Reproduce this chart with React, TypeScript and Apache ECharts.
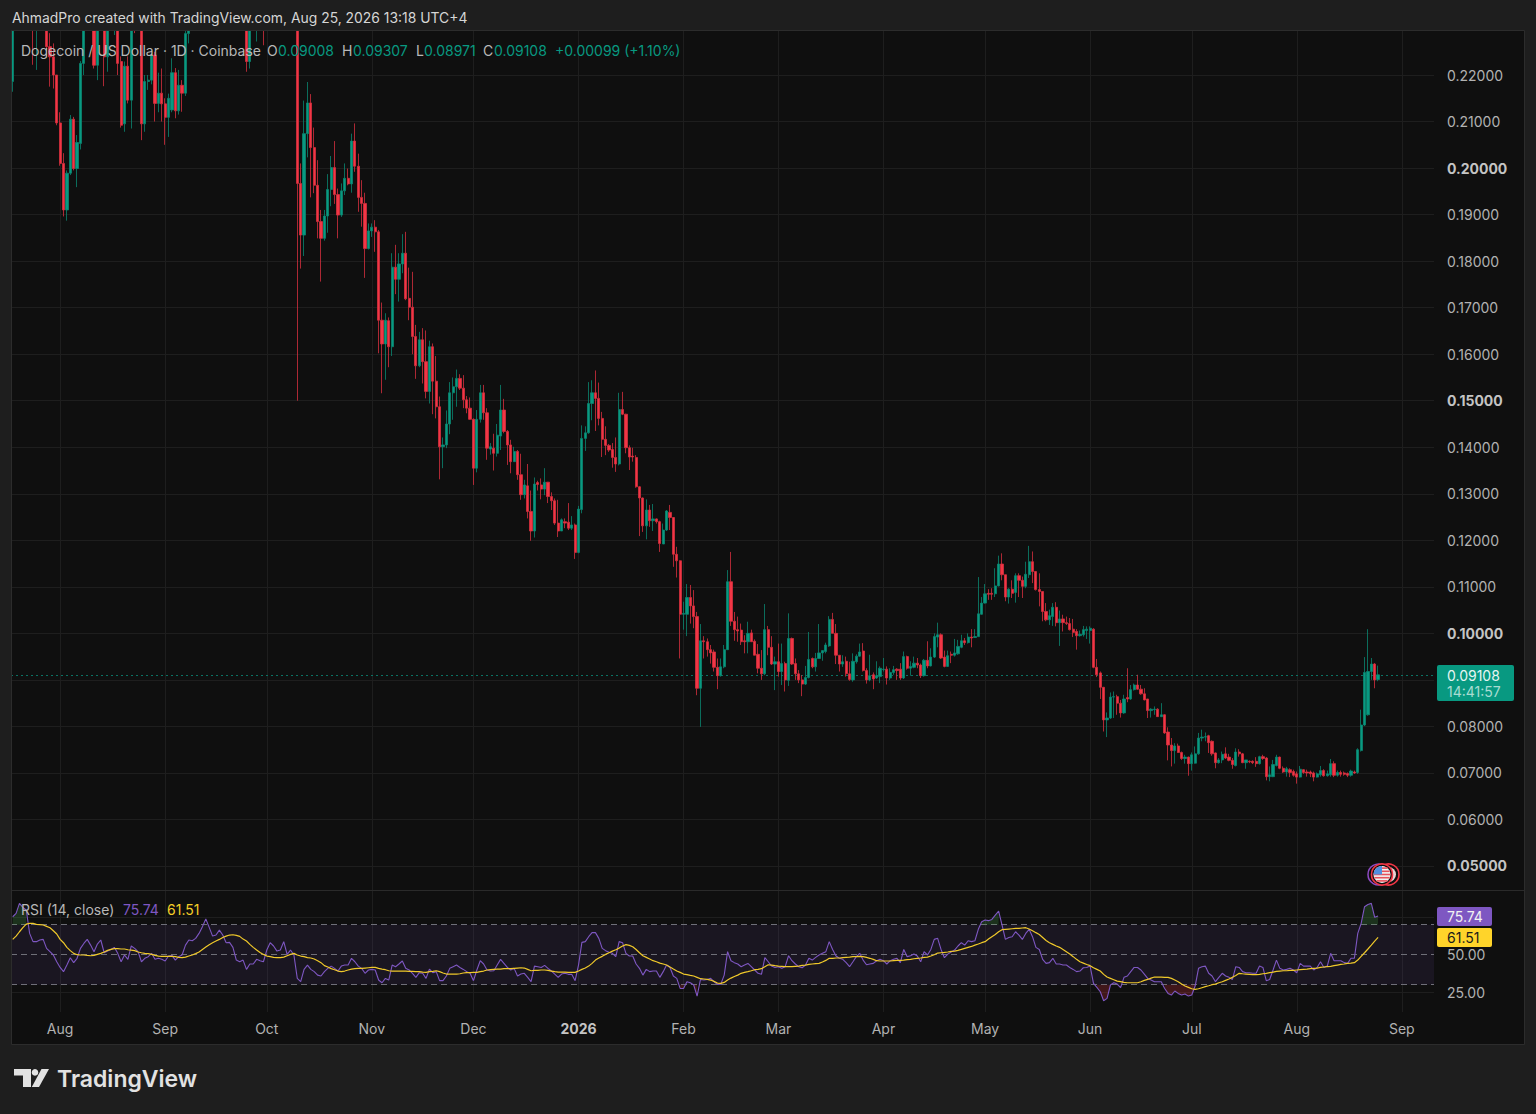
import React, { useEffect, useRef } from "react";
import * as echarts from "echarts";

const UP = "#089981";
const DOWN = "#F23645";
const UI_FONT = "Inter, 'Noto Sans', sans-serif";

const firstDay = "2025-07-18";
const slotCount = 420;
const monthLabels: Record<string, string> = {
  "2025-08-01": "Aug", "2025-09-01": "Sep", "2025-10-01": "Oct", "2025-11-01": "Nov", "2025-12-01": "Dec",
  "2026-01-01": "2026", "2026-02-01": "Feb", "2026-03-01": "Mar", "2026-04-01": "Apr", "2026-05-01": "May",
  "2026-06-01": "Jun", "2026-07-01": "Jul", "2026-08-01": "Aug", "2026-09-01": "Sep",
};
const priceTicks = [0.05, 0.06, 0.07, 0.08, 0.09, 0.1, 0.11, 0.12, 0.13, 0.14, 0.15, 0.16, 0.17, 0.18, 0.19, 0.2, 0.21, 0.22];
const priceLabels = [0.05, 0.06, 0.07, 0.08, 0.1, 0.11, 0.12, 0.13, 0.14, 0.15, 0.16, 0.17, 0.18, 0.19, 0.2, 0.21, 0.22];
const boldPrices = [0.05, 0.1, 0.15, 0.2];
const rsiGridTicks = [25, 75];
const rsiLabelTicks = [25, 50];
const rsiBands = [30, 50, 70];
const lastPrice = 0.09108;
const lastRsi = 75.74;
const lastRsiMa = 61.51;

// [open, close, low, high]
const candlesJulSep = [
  [.2186,.2420,.2164,.2480],[.2420,.2380,.2340,.2500],[.2380,.2400,.2330,.2470],[.2400,.2500,.2370,.2560],[.2500,.2620,.2450,.2690],
  [.2620,.2680,.2560,.2750],[.2680,.2350,.2222,.2760],[.2350,.2400,.2211,.2470],[.2400,.2380,.2320,.2450],[.2380,.2400,.2310,.2440],
  [.2400,.2261,.2240,.2430],[.2261,.2239,.2175,.2290],[.2239,.2200,.2171,.2268],[.2200,.2097,.2092,.2200],[.2097,.2010,.2005,.2120],
  [.2010,.1910,.1896,.2032],[.1910,.1989,.1887,.1995],[.1989,.2105,.1985,.2114],[.2105,.1999,.1995,.2110],[.1999,.2055,.1959,.2071],
  [.2053,.2225,.2040,.2230],[.2225,.2340,.2200,.2370],[.2340,.2380,.2310,.2430],[.2380,.2400,.2310,.2420],[.2400,.2221,.2214,.2430],
  [.2221,.2340,.2189,.2370],[.2340,.2310,.2300,.2380],[.2310,.2239,.2176,.2340],[.2239,.2330,.2207,.2360],[.2330,.2340,.2300,.2390],
  [.2340,.2360,.2286,.2400],[.2360,.2225,.2200,.2380],[.2229,.2092,.2087,.2240],[.2095,.2219,.2078,.2229],[.2219,.2146,.2139,.2240],
  [.2146,.2340,.2085,.2370],[.2340,.2330,.2290,.2380],[.2330,.2350,.2300,.2400],[.2350,.2095,.2060,.2400],[.2095,.2186,.2078,.2200],
  [.2186,.2189,.2168,.2200],[.2189,.2243,.2180,.2247],[.2243,.2139,.2100,.2250],[.2139,.2161,.2120,.2205],[.2161,.2138,.2100,.2214],
  [.2138,.2109,.2050,.2150],[.2109,.2150,.2067,.2160],[.2125,.2205,.2120,.2236],[.2205,.2123,.2107,.2215],[.2123,.2178,.2115,.2211],
  [.2178,.2161,.2121,.2189],[.2161,.2289,.2155,.2310],[.2289,.2380,.2268,.2420],[.2380,.2420,.2340,.2460],[.2420,.2470,.2400,.2500],
  [.2470,.2530,.2440,.2570],[.2530,.2620,.2510,.2660],[.2620,.2800,.2600,.2830],[.2800,.3000,.2780,.3060],[.3000,.2880,.2810,.3020],
  [.2880,.2720,.2680,.2900],[.2720,.2800,.2700,.2840],[.2800,.2720,.2680,.2830],[.2720,.2680,.2610,.2760],[.2680,.2600,.2540,.2700],
  [.2600,.2640,.2560,.2700],[.2640,.2450,.2390,.2650],[.2450,.2380,.2350,.2480],[.2380,.2410,.2320,.2450],[.2410,.2229,.2207,.2440],
  [.2229,.2350,.2214,.2390],[.2350,.2390,.2320,.2430],[.2340,.2380,.2272,.2410],[.2380,.2420,.2340,.2460],[.2420,.2370,.2264,.2440],
  [.2370,.2410,.2340,.2450],[.2410,.2460,.2380,.2500],[.2460,.2510,.2430,.2550],[.2510,.2560,.2480,.2600],[.2560,.2520,.2470,.2590],
  [.2520,.2600,.2490,.2640],[.2600,.2640,.2560,.2700],[.2640,.2600,.2540,.2680],[.2600,.2520,.2470,.2630],
];
const candlesOctDec = [
  [.2520,.1967,.1500,.2540],[.1967,.1856,.1784,.2010],[.1856,.2074,.1811,.2145],[.2074,.2140,.2023,.2185],[.2140,.2044,.1937,.2159],
  [.2044,.1963,.1946,.2087],[.1963,.1885,.1849,.2017],[.1885,.1849,.1756,.1910],[.1849,.1897,.1844,.1910],[.1897,.1954,.1861,.1987],
  [.1954,.2001,.1918,.2026],[.2001,.1943,.1923,.2058],[.1943,.1899,.1849,.1956],[.1899,.1951,.1895,.1967],[.1951,.1978,.1942,.2010],
  [.1978,.1966,.1963,.1999],[.1966,.2058,.1947,.2074],[.2058,.2004,.1992,.2096],[.2004,.1937,.1906,.2031],[.1937,.1924,.1874,.1974],
  [.1924,.1827,.1764,.1947],[.1827,.1865,.1825,.1881],[.1865,.1873,.1852,.1881],[.1873,.1863,.1820,.1888],[.1863,.1673,.1602,.1867],
  [.1673,.1622,.1516,.1711],[.1622,.1673,.1545,.1688],[.1672,.1616,.1572,.1679],[.1616,.1787,.1596,.1817],[.1787,.1761,.1729,.1835],
  [.1761,.1794,.1713,.1817],[.1794,.1817,.1774,.1858],[.1817,.1719,.1716,.1863],[.1720,.1701,.1673,.1786],[.1701,.1638,.1600,.1777],
  [.1638,.1575,.1547,.1663],[.1575,.1631,.1572,.1648],[.1631,.1584,.1537,.1656],[.1584,.1520,.1505,.1651],[.1520,.1616,.1494,.1629],
  [.1616,.1542,.1471,.1623],[.1542,.1487,.1462,.1596],[.1487,.1401,.1331,.1509],[.1401,.1405,.1355,.1421],[.1405,.1450,.1398,.1479],
  [.1450,.1517,.1428,.1540],[.1517,.1530,.1459,.1550],[.1530,.1548,.1487,.1567],[.1548,.1527,.1523,.1557],[.1527,.1502,.1484,.1555],
  [.1502,.1484,.1473,.1510],[.1484,.1460,.1459,.1507],[.1460,.1355,.1319,.1462],[.1355,.1460,.1346,.1480],[.1460,.1517,.1453,.1534],
  [.1517,.1474,.1459,.1534],[.1474,.1398,.1373,.1484],[.1396,.1401,.1384,.1409],[.1398,.1387,.1350,.1429],[.1387,.1426,.1380,.1450],
  [.1424,.1480,.1394,.1534],[.1480,.1434,.1430,.1504],[.1434,.1405,.1362,.1437],[.1405,.1369,.1344,.1416],[.1369,.1391,.1369,.1401],
  [.1391,.1341,.1330,.1394],[.1341,.1298,.1287,.1386],[.1298,.1319,.1290,.1330],[.1317,.1262,.1247,.1364],[.1262,.1220,.1199,.1307],
  [.1220,.1321,.1206,.1335],[.1324,.1320,.1307,.1328],[.1319,.1310,.1288,.1333],[.1310,.1325,.1297,.1355],[.1325,.1294,.1280,.1325],
  [.1294,.1285,.1265,.1303],[.1285,.1237,.1233,.1290],[.1237,.1220,.1207,.1287],[.1220,.1244,.1220,.1247],[.1240,.1237,.1226,.1247],
  [.1239,.1226,.1222,.1280],[.1226,.1233,.1222,.1252],[.1233,.1174,.1160,.1236],[.1174,.1267,.1172,.1274],
];
const candlesJanMar = [
  [.1266,.1419,.1258,.1447],[.1419,.1431,.1392,.1445],[.1431,.1494,.1429,.1540],[.1494,.1517,.1458,.1544],[.1517,.1505,.1435,.1565],
  [.1505,.1462,.1447,.1539],[.1462,.1417,.1379,.1476],[.1417,.1404,.1383,.1445],[.1404,.1394,.1390,.1407],[.1395,.1378,.1356,.1409],
  [.1378,.1364,.1347,.1421],[.1364,.1481,.1361,.1517],[.1481,.1471,.1469,.1519],[.1471,.1399,.1387,.1472],[.1399,.1379,.1351,.1404],
  [.1381,.1379,.1369,.1399],[.1378,.1315,.1313,.1383],[.1315,.1291,.1209,.1316],[.1291,.1231,.1218,.1292],[.1231,.1265,.1202,.1288],
  [.1265,.1242,.1229,.1276],[.1242,.1246,.1220,.1278],[.1246,.1240,.1236,.1247],[.1240,.1193,.1175,.1242],[.1192,.1222,.1192,.1236],
  [.1222,.1263,.1220,.1265],[.1260,.1249,.1222,.1276],[.1249,.1170,.1143,.1250],[.1170,.1156,.1120,.1186],[.1156,.1041,.0946,.1157],
  [.1041,.1043,.1008,.1068],[.1041,.1077,.0994,.1106],[.1077,.1059,.1021,.1104],[.1059,.1036,.1011,.1093],[.1036,.0882,.0867,.1046],
  [.0882,.0984,.0799,.1020],[.0984,.0982,.0946,.0994],[.0982,.0965,.0950,.0989],[.0965,.0958,.0935,.0975],[.0960,.0927,.0918,.0965],
  [.0927,.0909,.0880,.0946],[.0909,.0928,.0907,.0946],[.0928,.0965,.0925,.0975],[.0965,.1111,.0964,.1136],[.1111,.1026,.1016,.1175],
  [.1026,.1008,.0984,.1046],[.1008,.1005,.0982,.1036],[.1007,.0982,.0975,.1021],[.0984,.0982,.0957,.0996],[.0982,.1000,.0957,.1025],
  [.1001,.0982,.0982,.1008],[.0983,.0953,.0953,.0987],[.0955,.0925,.0914,.0977],[.0925,.0913,.0900,.0964],[.0913,.1008,.0910,.1063],
  [.1008,.0970,.0953,.1016],[.0970,.0934,.0932,.0994],[.0934,.0939,.0878,.0950],[.0939,.0918,.0907,.0978],[.0918,.0935,.0889,.0978],
  [.0935,.0900,.0875,.0939],[.0899,.0989,.0887,.1043],[.0989,.0934,.0932,.0991],[.0935,.0913,.0900,.0946],[.0913,.0900,.0893,.0921],
  [.0900,.0891,.0865,.0910],[.0891,.0905,.0889,.0930],[.0905,.0944,.0903,.1003],[.0946,.0928,.0925,.0948],[.0928,.0946,.0918,.0958],
  [.0946,.0958,.0946,.1020],[.0958,.0963,.0941,.0964],[.0961,.0975,.0957,.0980],[.0973,.1030,.0971,.1037],[.1030,.1000,.1000,.1044],
  [.1000,.0953,.0934,.1020],[.0953,.0934,.0918,.0953],[.0934,.0939,.0928,.0953],[.0940,.0913,.0907,.0950],[.0913,.0901,.0898,.0939],
  [.0900,.0940,.0896,.0957],[.0939,.0951,.0935,.0955],[.0951,.0960,.0950,.0978],
];
const candlesAprJun = [
  [.0962,.0920,.0918,.0979],[.0920,.0900,.0892,.0925],[.0900,.0909,.0897,.0954],[.0911,.0902,.0880,.0916],[.0904,.0909,.0902,.0940],
  [.0907,.0925,.0893,.0929],[.0922,.0923,.0918,.0947],[.0923,.0904,.0890,.0929],[.0904,.0916,.0900,.0925],[.0916,.0922,.0911,.0930],
  [.0923,.0920,.0900,.0925],[.0923,.0904,.0900,.0936],[.0904,.0950,.0902,.0961],[.0950,.0925,.0922,.0952],[.0925,.0929,.0909,.0940],
  [.0927,.0936,.0925,.0950],[.0936,.0932,.0925,.0947],[.0932,.0909,.0904,.0935],[.0909,.0942,.0907,.0945],[.0942,.0930,.0925,.0983],
  [.0930,.0949,.0929,.0968],[.0949,.0993,.0947,.1000],[.0992,.0997,.0970,.1023],[.0997,.0947,.0945,.1000],[.0949,.0929,.0927,.0963],
  [.0929,.0952,.0930,.0963],[.0955,.0953,.0936,.0961],[.0953,.0958,.0950,.0988],[.0956,.0972,.0954,.0986],[.0970,.0984,.0968,.0997],
  [.0984,.0980,.0975,.0990],[.0980,.0992,.0978,.1000],[.0992,.0990,.0970,.1009],[.0991,.0993,.0990,.1009],[.0993,.1042,.0992,.1121],
  [.1041,.1065,.1040,.1078],[.1065,.1085,.1064,.1106],[.1086,.1084,.1072,.1095],[.1086,.1084,.1072,.1097],[.1085,.1102,.1078,.1140],
  [.1102,.1149,.1101,.1167],[.1149,.1126,.1114,.1172],[.1126,.1078,.1069,.1126],[.1078,.1095,.1064,.1097],[.1095,.1086,.1076,.1114],
  [.1088,.1124,.1066,.1129],[.1124,.1114,.1078,.1129],[.1114,.1101,.1076,.1122],[.1101,.1127,.1097,.1154],[.1126,.1154,.1119,.1188],
  [.1154,.1133,.1108,.1176],[.1133,.1094,.1092,.1134],[.1094,.1090,.1058,.1129],[.1090,.1047,.1026,.1090],[.1047,.1029,.1026,.1065],
  [.1029,.1038,.1018,.1051],[.1036,.1056,.1016,.1065],[.1056,.1023,.1015,.1067],[.1023,.1031,.0973,.1049],[.1031,.1023,.1004,.1040],
  [.1023,.1021,.1018,.1036],[.1021,.1008,.1006,.1033],[.1009,.1002,.0992,.1031],[.1004,.0995,.0965,.1009],[.0995,.0998,.0993,.1006],
  [.0997,.1008,.0993,.1016],[.1006,.1009,.0988,.1015],[.1006,.1011,.0978,.1015],[.1009,.0927,.0925,.1011],[.0927,.0911,.0906,.0945],
  [.0915,.0884,.0859,.0918],[.0884,.0814,.0789,.0885],[.0814,.0818,.0777,.0830],[.0818,.0863,.0816,.0873],[.0863,.0864,.0818,.0875],
  [.0864,.0850,.0825,.0868],[.0850,.0829,.0819,.0857],[.0829,.0859,.0827,.0868],[.0862,.0859,.0852,.0925],[.0859,.0879,.0857,.0889],
  [.0879,.0889,.0877,.0892],[.0889,.0880,.0879,.0911],[.0880,.0870,.0868,.0889],[.0870,.0857,.0856,.0882],[.0859,.0834,.0818,.0859],
  [.0834,.0837,.0819,.0839],[.0836,.0837,.0825,.0843],[.0837,.0821,.0821,.0839],
];
const candlesJulAug = [
  [.0821,.0825,.0820,.0850],[.0825,.0786,.0784,.0826],[.0788,.0760,.0727,.0798],[.0760,.0748,.0714,.0775],[.0748,.0758,.0720,.0764],
  [.0758,.0744,.0743,.0763],[.0744,.0731,.0728,.0746],[.0731,.0734,.0720,.0739],[.0734,.0720,.0694,.0735],[.0720,.0739,.0705,.0744],
  [.0721,.0741,.0720,.0757],[.0741,.0775,.0739,.0786],[.0775,.0777,.0768,.0793],[.0777,.0778,.0768,.0787],[.0780,.0765,.0743,.0782],
  [.0768,.0741,.0737,.0770],[.0743,.0722,.0710,.0744],[.0722,.0728,.0720,.0732],[.0728,.0740,.0721,.0746],[.0741,.0732,.0730,.0755],
  [.0734,.0727,.0725,.0741],[.0727,.0718,.0709,.0732],[.0716,.0745,.0714,.0753],[.0745,.0741,.0735,.0751],[.0741,.0722,.0721,.0743],
  [.0722,.0728,.0709,.0728],[.0725,.0724,.0721,.0727],[.0725,.0722,.0719,.0727],[.0725,.0720,.0713,.0734],[.0720,.0735,.0718,.0737],
  [.0735,.0731,.0728,.0739],[.0732,.0692,.0684,.0734],[.0692,.0696,.0682,.0714],[.0692,.0718,.0691,.0728],[.0716,.0734,.0714,.0739],
  [.0734,.0710,.0708,.0735],[.0710,.0702,.0700,.0714],[.0702,.0709,.0692,.0713],[.0707,.0701,.0691,.0710],[.0703,.0695,.0692,.0707],
  [.0698,.0691,.0677,.0703],[.0691,.0708,.0690,.0715],[.0707,.0701,.0698,.0708],[.0702,.0700,.0692,.0707],[.0702,.0698,.0691,.0705],
  [.0700,.0691,.0682,.0703],[.0691,.0698,.0690,.0701],[.0696,.0705,.0692,.0715],[.0705,.0694,.0692,.0708],[.0694,.0698,.0692,.0705],
  [.0696,.0720,.0692,.0730],[.0720,.0695,.0691,.0725],[.0695,.0701,.0692,.0705],[.0701,.0697,.0692,.0705],[.0700,.0697,.0694,.0703],
  [.0699,.0695,.0691,.0701],[.0695,.0704,.0692,.0707],[.0702,.0700,.0698,.0705],[.0701,.0750,.0698,.0753],[.0748,.0803,.0746,.0836],
  [.0803,.0916,.0801,.0949],[.0825,.0918,.0823,.1009],[.0918,.0934,.0900,.0947],[.0934,.0900,.0882,.0936],[.09008,.09108,.08971,.09307],
];

const rsiValues = [
  75.3,77.5,84.2,81.5,79.8,64.2,58.7,58.7,59.8,60.2,
  54.2,52,49.8,45.3,41.5,38.7,43.1,48,44.7,47.6,
  54.2,57.5,60.2,56.4,52,57.1,59.8,51.3,52.4,53.5,
  54.9,50.9,45.3,49.8,46.9,55.8,54.2,52,45.3,47.6,
  48.7,50.9,46.9,47.6,46.9,45.8,49.1,49.5,46.4,48.7,
  49.8,56.4,59.8,59.3,60.9,64.2,68.7,73.8,68.2,62.4,
  63.1,66.4,63.1,58,58.2,54.9,46.4,45.3,46.4,40.2,
  43.8,43.8,46.9,46,45.3,53.1,58,55.8,52.4,53.1,
  58.7,50.2,53.1,49.8,34.2,32,40.2,43.1,40.2,38.7,
  36.4,35.8,38.7,40.9,42.4,40.9,39.1,42.4,43.1,43.1,
  47.6,45.3,42.4,40.9,37.6,39.8,40.2,39.8,33.1,31.3,
  34.2,33.1,43.1,42,43.8,45.8,40.9,39.8,37.6,34.9,
  38,37.6,34.2,40.4,38,38.7,32.7,32.7,35.8,40.9,
  42,43.1,41.5,40.2,38.7,37.6,32.7,39.8,46,43.8,
  39.8,39.1,39.3,43.1,46.9,44.2,41.5,39.8,40.9,35.8,
  37.1,37.6,34.9,32,42.4,42,41.5,42.9,40.9,39.1,
  37.1,34.9,37.1,37.6,36.9,36.9,32.7,43.1,58.2,58.7,
  62,64.7,64.7,60.9,54.2,52.7,51.6,50.9,48.7,58.7,
  58,50.9,49.1,49.1,43.8,40.9,36.4,40.2,38.7,39.1,
  39.1,34.9,38.7,43.1,41.5,35.8,34.2,27.5,27.5,32,
  31.3,29.8,22.4,33.5,33.1,33.5,34.2,32,30.2,30.4,
  36.4,52,46,44.7,43.8,42,43.1,44.2,42,39.8,
  37.6,36.9,48,45.3,42.4,41.5,42,40.9,42,49.3,
  46,43.8,42,41.3,43.1,47.6,46.4,48.2,49.8,50.9,
  52,58.7,53.5,49.1,47.6,46.9,44.7,42,45.3,48.7,
  50.9,46.4,43.3,43.8,44.2,46,46.9,46,43.8,46,
  46.9,47.6,44.7,53.5,48.7,49.3,50.4,49.1,45.3,52,
  49.8,53.5,60.2,60.9,53.5,48,50.4,51.8,53.1,55.8,
  58,56.4,59.3,58.7,59.3,66.9,72,73.1,72.7,73.5,
  76.4,79.1,69.8,60.2,61.5,62,65.3,63.1,60.2,64.2,
  66.9,62,54.9,53.5,46.9,44.2,44.7,47.6,43.8,43.8,
  43.1,43.1,41.5,40.2,38.7,39.1,41.3,41.5,42.4,30.9,
  28.2,25.3,19.3,20.9,29.8,31.3,30.4,28,34.9,35.8,
  38.7,41.5,41.5,39.8,37.1,34.2,33.1,32,32,32,
  27.5,24.2,23.1,25.8,24.2,23.1,23.8,22.4,23.1,29.1,
  40.9,42,42.4,37.6,35.8,32,34.9,37.6,35.8,34.9,
  33.5,42,41.5,38.7,38,38,37.6,37.6,42.4,41.5,
  32.7,33.5,39.8,46.4,40.9,39.8,40.2,40.9,39.8,38,
  44.2,42.4,42.4,42.4,39.8,41.5,45.3,41.5,42.4,50.9,
  46,46,46,44.7,44.2,47.6,47.6,64.2,70.9,82,
  83.5,84.2,74.9,75.74,
];

const rsiMaValues = [
  60.2,62.4,65.3,68,70.4,70.9,70.9,70.2,70,69.8,
  68.9,68,66,63.8,60.2,58,54.9,52.7,50.9,50,
  49.8,49.8,49.5,49.3,49.5,50.2,50.9,51.8,52.9,53.5,
  54,54,53.8,53.8,53.3,53.1,52.7,51.8,51.3,50.9,
  50.7,50.2,49.5,49.1,48.9,48.9,48.9,48.9,48.7,48.2,
  48,48.4,49.1,49.8,50.7,51.8,53.5,55.1,56.7,58,
  59.1,60.2,61.5,62.4,63.1,63.3,62.9,62.2,60.4,59.1,
  56.9,54.9,53.1,51.5,50.2,49.1,48.7,48.2,48,48,
  48.4,49.3,50.2,50.9,49.8,49.1,48.7,48,47.8,47.1,
  46,44.7,42.7,41.8,40.7,40,39.1,38.7,39.1,39.8,
  40.4,40.7,40.9,40.9,41.1,41.3,41.5,41.5,40.9,40.4,
  40,39.3,39.1,39.1,39.1,39.1,39.1,38.9,38.9,38.7,
  38.7,38.4,38.2,38.7,38.9,39.3,38.7,37.8,37.1,37.1,
  37.1,37.1,37.3,37.8,38,38,38.2,38.2,38.7,39.1,
  39.8,40,40.2,40.4,40.4,40.7,40.7,40.7,40.9,41.1,
  41.3,41.1,40.2,39.3,39.5,39.5,39.8,39.8,39.5,39.1,
  38.7,38.4,38.4,38.4,38.2,38.2,38.2,39.1,40.2,41.1,
  42.4,44.2,46.4,47.8,48.9,50.2,51.3,52.4,53.3,54.4,
  55.8,56.7,56.2,55.3,53.5,51.3,49.3,48.2,47.1,46,
  45.3,44.4,43.8,43.1,41.8,40.4,39.1,38.2,37.1,36.7,
  36.2,35.8,34.9,34,33.8,33.5,33.1,32.2,31.1,30.9,
  31.5,33.1,34.4,35.5,36.4,37.6,38.2,38.7,39.3,40,
  40.2,40.7,42,43.3,43.1,42.7,42.4,42.2,42,42,
  42,42.2,42.4,42.9,43.1,43.5,43.8,44,44.2,45.1,
  46.2,47.6,47.6,47.8,47.8,48,48.2,48.4,48.7,48.7,
  48.9,48.7,48.2,47.6,46.9,46,45.8,45.8,45.8,45.8,
  46,46.2,46.2,46.4,46.7,46.9,47.3,47.6,47.8,48.2,
  48.4,49.1,50,51.1,51.3,51.5,51.8,52.2,52.4,52.9,
  53.5,54.2,54.9,55.5,56.4,57.1,58,58.7,60.4,62,
  63.5,65.3,66.7,66.9,67.1,67.3,67.5,67.5,67.8,68,
  67.1,66,64.7,63.5,61.5,59.5,58,56.9,55.8,54.9,
  53.5,52,50.4,48.7,46.9,45.3,44.4,43.5,42.7,41.3,
  40.2,39.1,36.9,35.1,34.2,33.3,32.4,32,31.5,31.3,
  31.3,31.3,31.3,32,32.9,33.5,34.4,35.1,35.1,35.1,
  34.9,34.9,34.2,33.1,32,30.4,29.1,28.2,27.3,26.9,
  27.3,28,28.7,29.3,30,30.4,31.3,32,32.9,33.8,
  34.9,36.2,37.6,37.3,37.1,36.9,36.7,36.7,36.9,37.3,
  37.6,38,38.4,38.9,39.1,39.3,39.3,39.5,39.5,39.8,
  40,40.2,40.4,40.7,40.9,41.1,41.5,41.8,42,42.2,
  42.7,43.1,43.5,43.8,44.2,44.4,44.7,46.4,48.9,51.3,
  53.8,56.4,59.1,61.51,
];

const candles = [...candlesJulSep, ...candlesOctDec, ...candlesJanMar, ...candlesAprJun, ...candlesJulAug];

const categories: string[] = [];
{
  const t0 = Date.parse(firstDay + "T00:00:00Z");
  for (let i = 0; i < slotCount; i++) categories.push(new Date(t0 + i * 86400000).toISOString().slice(0, 10));
}
const isMonthStart = (_: number, v: string) => v in monthLabels;

function txt(x: number, y: number, text: string, fill: string, font = `14px ${UI_FONT}`, extra: any = {}) {
  return { type: "text", x, y, z: 20, silent: true, style: { text, fill, font, verticalAlign: "middle", align: "left", ...extra } };
}

export default function App() {
  const ref = useRef<HTMLDivElement>(null);
  useEffect(() => {
    document.body.style.margin = "0";
    document.body.style.background = "#1e1e1e";
    const chart = echarts.init(ref.current!, undefined, { renderer: "svg" });

    const fx = 1382, fy = 874.5;
    const stripes = [-6.4, -3.2, 0, 3.2, 6.4];
    const stripeLen = [5.6, 7.6, 8.4, 7.6, 5.6];

    const graphic: any[] = [
      { type: "rect", z: 0, silent: true, shape: { x: 11.5, y: 30.5, width: 1513, height: 1014 }, style: { fill: "#0f0f0f", stroke: "#2c2c2c", lineWidth: 1 } },
      // page margin in front of candles that run off the top of the pane
      { type: "rect", z: 10, silent: true, shape: { x: 0, y: 0, width: 1536, height: 30.5 }, style: { fill: "#1e1e1e" } },
      { type: "rect", z: 10, silent: true, shape: { x: 0, y: 0, width: 11.5, height: 1050 }, style: { fill: "#1e1e1e" } },
      { type: "line", z: 11, silent: true, shape: { x1: 11.5, y1: 30.5, x2: 1524.5, y2: 30.5 }, style: { stroke: "#2c2c2c", lineWidth: 1 } },
      { type: "line", z: 11, silent: true, shape: { x1: 11.5, y1: 30.5, x2: 11.5, y2: 1044.5 }, style: { stroke: "#2c2c2c", lineWidth: 1 } },
      { type: "line", z: 3, silent: true, shape: { x1: 12, y1: 890.5, x2: 1524, y2: 890.5 }, style: { stroke: "#2a2a2a", lineWidth: 1 } },
      txt(12, 18, "AhmadPro created with TradingView.com, Aug 25, 2026 13:18 UTC+4", "#d6d6d6", `13.9px ${UI_FONT}`),
      txt(21, 50, "Dogecoin / US Dollar · 1D · Coinbase", "#b8b8b8"),
      txt(267, 50, "O", "#b8b8b8"), txt(278, 50, "0.09008", UP),
      txt(342, 50, "H", "#b8b8b8"), txt(353, 50, "0.09307", UP),
      txt(416, 50, "L", "#b8b8b8"), txt(424, 50, "0.08971", UP),
      txt(483, 50, "C", "#b8b8b8"), txt(494, 50, "0.09108", UP),
      txt(555, 50, "+0.00099 (+1.10%)", UP),
      txt(21, 909, "RSI (14, close)", "#b8b8b8"),
      txt(123, 909, String(lastRsi), "#7E57C2"),
      txt(167, 909, String(lastRsiMa), "#F5CE27"),
      // last price tag
      { type: "rect", z: 15, silent: true, shape: { x: 1437, y: 665, width: 77, height: 36, r: 2 }, style: { fill: UP } },
      txt(1447, 675, lastPrice.toFixed(5), "#e6f5f2"),
      txt(1447, 691, "14:41:57", "#a8dcd2"),
      // RSI tags
      { type: "rect", z: 15, silent: true, shape: { x: 1437, y: 907, width: 55, height: 19, r: 2 }, style: { fill: "#7E57C2" } },
      txt(1447, 916.5, String(lastRsi), "#f2f2f2"),
      { type: "rect", z: 15, silent: true, shape: { x: 1437, y: 928, width: 55, height: 19, r: 2 }, style: { fill: "#FFD42A" } },
      txt(1447, 937.5, String(lastRsiMa), "#1a1a1a"),
      // TradingView logo
      { type: "polygon", z: 20, silent: true, shape: { points: [[14, 1069], [31, 1069], [31, 1087], [23, 1087], [23, 1075.5], [14, 1075.5]] }, style: { fill: "#e2e2e2" } },
      { type: "circle", z: 20, silent: true, shape: { cx: 35, cy: 1072.4, r: 3.3 }, style: { fill: "#e2e2e2" } },
      { type: "polygon", z: 20, silent: true, shape: { points: [[41.5, 1069], [49, 1069], [39, 1087], [31.8, 1087]] }, style: { fill: "#e2e2e2" } },
      txt(57, 1079, "TradingView", "#e2e2e2", `600 23px ${UI_FONT}`),
      // event marker
      { type: "circle", z: 12, silent: true, shape: { cx: fx - 3.5, cy: fy, r: 10.5 }, style: { fill: "#0f0f0f", stroke: "#8e4bc4", lineWidth: 1.5 } },
      { type: "circle", z: 13, silent: true, shape: { cx: fx + 6.5, cy: fy, r: 10.5 }, style: { fill: "#0f0f0f", stroke: DOWN, lineWidth: 1.6 } },
      { type: "sector", z: 13, silent: true, shape: { cx: fx + 6.5, cy: fy, r0: 0, r: 7.5, startAngle: -Math.PI / 2, endAngle: Math.PI / 2 }, style: { fill: "#e9d4d4" } },
      { type: "circle", z: 14, silent: true, shape: { cx: fx, cy: fy, r: 10.5 }, style: { fill: "#0f0f0f", stroke: DOWN, lineWidth: 1.6 } },
      { type: "circle", z: 15, silent: true, shape: { cx: fx, cy: fy, r: 8.5 }, style: { fill: "#f2f2f2" } },
      ...stripes.map((d, i) => ({ type: "line", z: 16, silent: true, shape: { x1: fx - stripeLen[i], y1: fy + d, x2: fx + stripeLen[i], y2: fy + d }, style: { stroke: "#e8505b", lineWidth: 1.6 } })),
      { type: "sector", z: 17, silent: true, shape: { cx: fx, cy: fy, r0: 0, r: 8.5, startAngle: Math.PI, endAngle: Math.PI * 1.5 }, style: { fill: "#4f8fe0" } },
    ];

    const axisTextColor = "#b2b2b2";
    const option: any = {
      animation: false,
      backgroundColor: "#1e1e1e",
      graphic,
      grid: [
        { left: 11, top: 31, width: 1423, height: 859, show: false },
        { left: 11, top: 890, width: 1423, height: 122, show: false },
      ],
      xAxis: [
        {
          type: "category", gridIndex: 0, data: categories, boundaryGap: true,
          axisLine: { show: false }, axisTick: { show: false }, axisLabel: { show: false },
          splitLine: { show: true, interval: isMonthStart, alignWithLabel: true, lineStyle: { color: "#1e1e1e", width: 1 } },
        },
        {
          type: "category", gridIndex: 1, data: categories, boundaryGap: true,
          axisLine: { show: false }, axisTick: { show: false },
          axisLabel: {
            show: true, interval: isMonthStart, margin: 9, color: axisTextColor, fontSize: 14, fontFamily: UI_FONT,
            formatter: (v: string) => (monthLabels[v] === "2026" ? "{b|2026}" : monthLabels[v] ?? ""),
            rich: { b: { fontWeight: "bold", fontSize: 14, color: "#c4c4c4", fontFamily: UI_FONT } },
          },
          splitLine: { show: true, interval: isMonthStart, alignWithLabel: true, lineStyle: { color: "#1e1e1e", width: 1 } },
        },
      ],
      yAxis: [
        {
          type: "value", gridIndex: 0, position: "right", min: 0.04484, max: 0.22946,
          axisLine: { show: false },
          axisTick: { show: false, customValues: priceTicks },
          axisLabel: {
            show: true, customValues: priceLabels, margin: 13, color: axisTextColor, fontSize: 14, fontFamily: UI_FONT,
            formatter: (v: number) => {
              const s = v.toFixed(5);
              return boldPrices.some((b) => Math.abs(b - v) < 1e-6) ? `{b|${s}}` : s;
            },
            rich: { b: { fontWeight: "bold", fontSize: 14, color: "#c4c4c4", fontFamily: UI_FONT } },
          },
          splitLine: { show: true, lineStyle: { color: "#1e1e1e", width: 1 } },
        },
        {
          type: "value", gridIndex: 1, position: "right", min: 11.8, max: 93.13,
          axisLine: { show: false },
          axisTick: { show: false, customValues: rsiGridTicks },
          axisLabel: {
            show: true, customValues: rsiLabelTicks, margin: 13, color: axisTextColor, fontSize: 14, fontFamily: UI_FONT,
            formatter: (v: number) => v.toFixed(2),
          },
          splitLine: { show: true, lineStyle: { color: "#1e1e1e", width: 1 } },
        },
      ],
      series: [
        {
          type: "candlestick", xAxisIndex: 0, yAxisIndex: 0, data: candles, barWidth: 2.7, clip: true, z: 5,
          itemStyle: { color: UP, color0: DOWN, borderColor: "#0a8570", borderColor0: "#d42f3d", borderWidth: 0.8 },
          markLine: {
            silent: true, symbol: "none", z: 4, animation: false, precision: 5,
            label: { show: false },
            lineStyle: { color: "#0b7263", type: [2, 3], width: 1 },
            data: [{ yAxis: lastPrice }],
          },
        },
        {
          type: "line", xAxisIndex: 1, yAxisIndex: 1, data: rsiValues.map((v) => (v > 70 ? v : null)), z: 3, symbol: "none",
          lineStyle: { width: 0 }, areaStyle: { origin: 70, color: "rgba(76,175,80,0.32)" }, silent: true,
        },
        {
          type: "line", xAxisIndex: 1, yAxisIndex: 1, data: rsiValues.map((v) => (v < 30 ? v : null)), z: 3, symbol: "none",
          lineStyle: { width: 0 }, areaStyle: { origin: 30, color: "rgba(242,54,69,0.32)" }, silent: true,
        },
        {
          type: "line", name: "RSI", xAxisIndex: 1, yAxisIndex: 1, data: rsiValues, symbol: "none", z: 6, silent: true,
          lineStyle: { color: "#7E57C2", width: 1.1 },
          markArea: {
            silent: true, z: 1, animation: false, itemStyle: { color: "rgba(126,87,194,0.1)" },
            data: [[{ yAxis: rsiBands[0] }, { yAxis: rsiBands[2] }]],
          },
          markLine: {
            silent: true, symbol: "none", z: 2, animation: false, label: { show: false },
            lineStyle: { color: "#6f6f78", type: [6, 4], width: 1 },
            data: rsiBands.map((b) => ({ yAxis: b })),
          },
        },
        {
          type: "line", name: "RSI MA", xAxisIndex: 1, yAxisIndex: 1, data: rsiMaValues, symbol: "none", z: 7, silent: true,
          lineStyle: { color: "#F0C92A", width: 1.2 },
        },
      ],
    };
    chart.setOption(option);
    return () => chart.dispose();
  }, []);
  return <div ref={ref} style={{ position: "absolute", left: 0, top: 0, width: 1536, height: 1114 }} />;
}
